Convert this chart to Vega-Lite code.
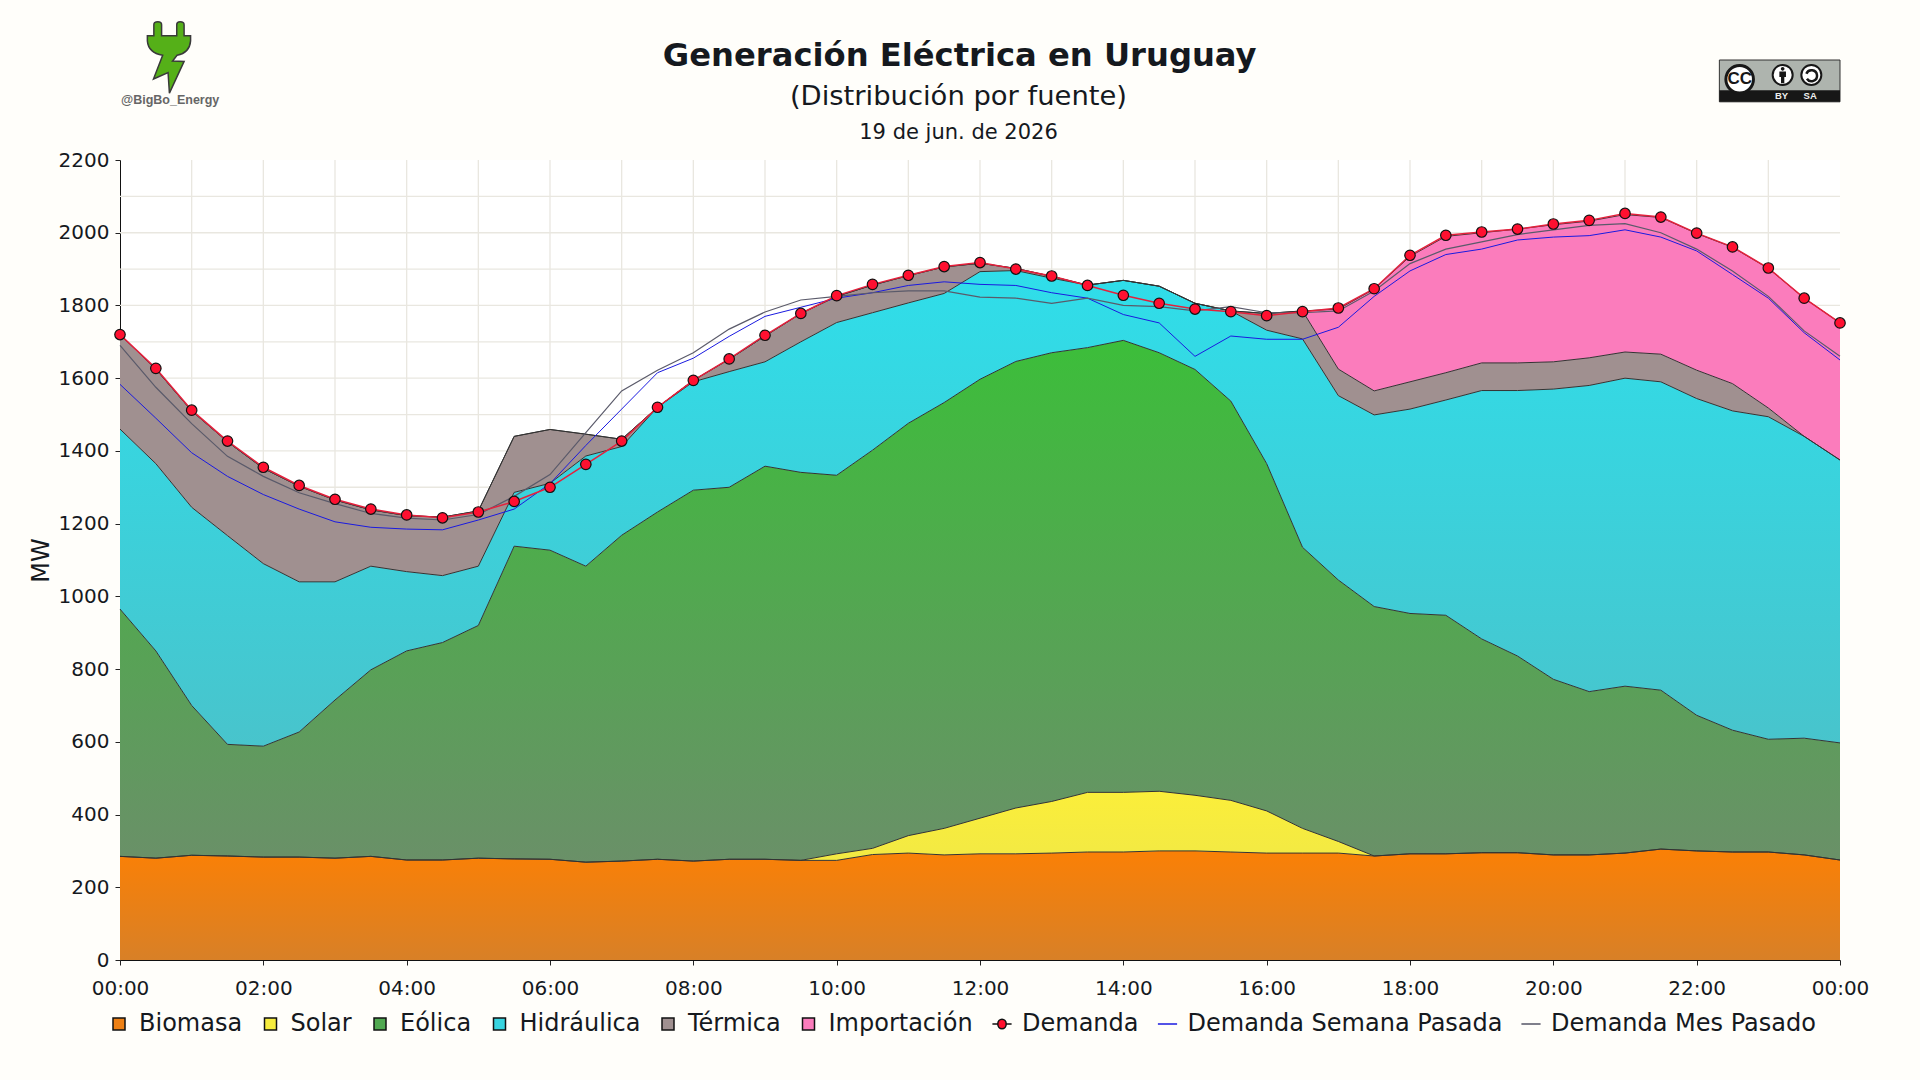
{"$schema":"https://vega.github.io/schema/vega-lite/v6.json","width":1720,"height":800,"autosize":{"type":"none"},"padding":{"left":120,"top":160,"right":80,"bottom":120},"background":"#fffefa","view":{"fill":"#ffffff","stroke":null},"config":{"font":"DejaVu Sans","view":{"fill":"#ffffff","stroke":null}},"datasets":{"d":[
{"t":"2026-06-19T00:00","bio":285,"sol":0,"eol":680,"hid":495,"ter":260,"imp":0,"dem":1720,"sem":1583,"mes":1690},
{"t":"2026-06-19T00:30","bio":280,"sol":0,"eol":570,"hid":515,"ter":260,"imp":0,"dem":1627,"sem":1490,"mes":1575},
{"t":"2026-06-19T01:00","bio":288,"sol":0,"eol":412,"hid":545,"ter":265,"imp":0,"dem":1512,"sem":1395,"mes":1475},
{"t":"2026-06-19T01:30","bio":286,"sol":0,"eol":307,"hid":574,"ter":258,"imp":0,"dem":1427,"sem":1330,"mes":1385},
{"t":"2026-06-19T02:00","bio":283,"sol":0,"eol":305,"hid":502,"ter":262,"imp":0,"dem":1355,"sem":1280,"mes":1330},
{"t":"2026-06-19T02:30","bio":283,"sol":0,"eol":344,"hid":413,"ter":263,"imp":0,"dem":1305,"sem":1240,"mes":1285},
{"t":"2026-06-19T03:00","bio":280,"sol":0,"eol":435,"hid":325,"ter":225,"imp":0,"dem":1267,"sem":1205,"mes":1255},
{"t":"2026-06-19T03:30","bio":285,"sol":0,"eol":513,"hid":285,"ter":155,"imp":0,"dem":1240,"sem":1190,"mes":1228},
{"t":"2026-06-19T04:00","bio":275,"sol":0,"eol":575,"hid":218,"ter":154,"imp":0,"dem":1224,"sem":1185,"mes":1215},
{"t":"2026-06-19T04:30","bio":275,"sol":0,"eol":598,"hid":184,"ter":161,"imp":0,"dem":1216,"sem":1183,"mes":1210},
{"t":"2026-06-19T05:00","bio":280,"sol":0,"eol":640,"hid":163,"ter":152,"imp":0,"dem":1232,"sem":1210,"mes":1225},
{"t":"2026-06-19T05:30","bio":278,"sol":0,"eol":860,"hid":148,"ter":154,"imp":0,"dem":1261,"sem":1240,"mes":1275},
{"t":"2026-06-19T06:00","bio":277,"sol":0,"eol":850,"hid":184,"ter":148,"imp":0,"dem":1300,"sem":1310,"mes":1335},
{"t":"2026-06-19T06:30","bio":269,"sol":0,"eol":814,"hid":303,"ter":60,"imp":0,"dem":1363,"sem":1415,"mes":1450},
{"t":"2026-06-19T07:00","bio":272,"sol":0,"eol":896,"hid":244,"ter":20,"imp":0,"dem":1427,"sem":1515,"mes":1565},
{"t":"2026-06-19T07:30","bio":277,"sol":0,"eol":955,"hid":288,"ter":0,"imp":0,"dem":1520,"sem":1615,"mes":1622},
{"t":"2026-06-19T08:00","bio":272,"sol":0,"eol":1020,"hid":298,"ter":4,"imp":0,"dem":1594,"sem":1655,"mes":1670},
{"t":"2026-06-19T08:30","bio":277,"sol":0,"eol":1023,"hid":318,"ter":34,"imp":0,"dem":1653,"sem":1715,"mes":1735},
{"t":"2026-06-19T09:00","bio":277,"sol":0,"eol":1081,"hid":287,"ter":71,"imp":0,"dem":1718,"sem":1770,"mes":1782},
{"t":"2026-06-19T09:30","bio":274,"sol":0,"eol":1067,"hid":359,"ter":78,"imp":0,"dem":1778,"sem":1795,"mes":1815},
{"t":"2026-06-19T10:00","bio":274,"sol":18,"eol":1041,"hid":420,"ter":72,"imp":0,"dem":1827,"sem":1820,"mes":1825},
{"t":"2026-06-19T10:30","bio":290,"sol":17,"eol":1095,"hid":378,"ter":76,"imp":0,"dem":1858,"sem":1835,"mes":1835},
{"t":"2026-06-19T11:00","bio":294,"sol":48,"eol":1134,"hid":331,"ter":75,"imp":0,"dem":1883,"sem":1855,"mes":1840},
{"t":"2026-06-19T11:30","bio":289,"sol":73,"eol":1171,"hid":300,"ter":73,"imp":0,"dem":1907,"sem":1865,"mes":1840},
{"t":"2026-06-19T12:00","bio":292,"sol":98,"eol":1207,"hid":296,"ter":23,"imp":0,"dem":1918,"sem":1858,"mes":1823},
{"t":"2026-06-19T12:30","bio":292,"sol":126,"eol":1228,"hid":250,"ter":6,"imp":0,"dem":1900,"sem":1855,"mes":1820},
{"t":"2026-06-19T13:00","bio":294,"sol":142,"eol":1234,"hid":205,"ter":5,"imp":0,"dem":1881,"sem":1835,"mes":1806},
{"t":"2026-06-19T13:30","bio":297,"sol":164,"eol":1223,"hid":172,"ter":0,"imp":0,"dem":1855,"sem":1820,"mes":1820},
{"t":"2026-06-19T14:00","bio":297,"sol":164,"eol":1243,"hid":165,"ter":0,"imp":0,"dem":1828,"sem":1775,"mes":1800},
{"t":"2026-06-19T14:30","bio":300,"sol":164,"eol":1206,"hid":183,"ter":0,"imp":0,"dem":1806,"sem":1752,"mes":1797},
{"t":"2026-06-19T15:00","bio":300,"sol":153,"eol":1171,"hid":182,"ter":0,"imp":0,"dem":1790,"sem":1660,"mes":1785},
{"t":"2026-06-19T15:30","bio":297,"sol":142,"eol":1098,"hid":248,"ter":0,"imp":0,"dem":1783,"sem":1716,"mes":1797},
{"t":"2026-06-19T16:00","bio":294,"sol":116,"eol":955,"hid":367,"ter":46,"imp":0,"dem":1772,"sem":1707,"mes":1780},
{"t":"2026-06-19T16:30","bio":294,"sol":68,"eol":773,"hid":573,"ter":77,"imp":0,"dem":1783,"sem":1707,"mes":1780},
{"t":"2026-06-19T17:00","bio":294,"sol":32,"eol":719,"hid":507,"ter":73,"imp":165,"dem":1793,"sem":1740,"mes":1785},
{"t":"2026-06-19T17:30","bio":286,"sol":0,"eol":686,"hid":527,"ter":66,"imp":280,"dem":1846,"sem":1825,"mes":1840},
{"t":"2026-06-19T18:00","bio":292,"sol":0,"eol":661,"hid":562,"ter":75,"imp":345,"dem":1938,"sem":1895,"mes":1915},
{"t":"2026-06-19T18:30","bio":292,"sol":0,"eol":656,"hid":592,"ter":75,"imp":375,"dem":1993,"sem":1940,"mes":1955},
{"t":"2026-06-19T19:00","bio":295,"sol":0,"eol":588,"hid":683,"ter":76,"imp":358,"dem":2002,"sem":1955,"mes":1975},
{"t":"2026-06-19T19:30","bio":295,"sol":0,"eol":541,"hid":730,"ter":76,"imp":368,"dem":2010,"sem":1980,"mes":1995},
{"t":"2026-06-19T20:00","bio":289,"sol":0,"eol":483,"hid":798,"ter":75,"imp":377,"dem":2024,"sem":1988,"mes":2008},
{"t":"2026-06-19T20:30","bio":289,"sol":0,"eol":449,"hid":842,"ter":76,"imp":376,"dem":2034,"sem":1992,"mes":2020},
{"t":"2026-06-19T21:00","bio":294,"sol":0,"eol":459,"hid":847,"ter":72,"imp":378,"dem":2053,"sem":2008,"mes":2025},
{"t":"2026-06-19T21:30","bio":305,"sol":0,"eol":437,"hid":848,"ter":76,"imp":376,"dem":2043,"sem":1988,"mes":2000},
{"t":"2026-06-19T22:00","bio":300,"sol":0,"eol":373,"hid":871,"ter":78,"imp":376,"dem":1999,"sem":1950,"mes":1955},
{"t":"2026-06-19T22:30","bio":297,"sol":0,"eol":335,"hid":878,"ter":75,"imp":375,"dem":1961,"sem":1885,"mes":1895},
{"t":"2026-06-19T23:00","bio":297,"sol":0,"eol":310,"hid":887,"ter":24,"imp":384,"dem":1903,"sem":1820,"mes":1825},
{"t":"2026-06-19T23:30","bio":289,"sol":0,"eol":321,"hid":830,"ter":0,"imp":380,"dem":1820,"sem":1725,"mes":1730},
{"t":"2026-06-20T00:00","bio":275,"sol":0,"eol":322,"hid":778,"ter":0,"imp":377,"dem":1752,"sem":1650,"mes":1660}
]},"layer":[
{"data":{"values":[{"serie":"Biomasa"},{"serie":"Solar"},{"serie":"Eólica"},{"serie":"Hidráulica"},{"serie":"Térmica"},{"serie":"Importación"},{"serie":"Demanda"},{"serie":"Demanda Semana Pasada"},{"serie":"Demanda Mes Pasado"}]},"mark":{"type":"point","filled":true,"size":1,"opacity":1},"encoding":{"fill":{"field":"serie","type":"nominal","scale":{"domain":["Biomasa","Solar","Eólica","Hidráulica","Térmica","Importación","Demanda","Demanda Semana Pasada","Demanda Mes Pasado"],"range":["#ee8014","#f6ec3e","#50a850","#38d4e0","#a09090","#fb7cbc","#ff0f2d","transparent","transparent"]},"legend":{"title":null,"orient":"none","legendX":-13,"legendY":852,"direction":"horizontal","columns":9,"symbolSize":144,"symbolStrokeWidth":1.5,"labelFontSize":24,"labelColor":"#15191e","labelOffset":8,"columnPadding":15.5,"labelLimit":500,"labelFont":"DejaVu Sans"}},"stroke":{"field":"serie","type":"nominal","scale":{"domain":["Biomasa","Solar","Eólica","Hidráulica","Térmica","Importación","Demanda","Demanda Semana Pasada","Demanda Mes Pasado"],"range":["#111111","#111111","#111111","#111111","#111111","#111111","#111111","#1a1ae0","#555566"]},"legend":{"title":null,"orient":"none","legendX":-13,"legendY":852,"direction":"horizontal","columns":9,"symbolSize":144,"symbolStrokeWidth":1.5,"labelFontSize":24,"labelColor":"#15191e","labelOffset":8,"columnPadding":15.5,"labelLimit":500,"labelFont":"DejaVu Sans"}},"shape":{"field":"serie","type":"nominal","scale":{"domain":["Biomasa","Solar","Eólica","Hidráulica","Térmica","Importación","Demanda","Demanda Semana Pasada","Demanda Mes Pasado"],"range":["M-1,-1H1V1H-1Z","M-1,-1H1V1H-1Z","M-1,-1H1V1H-1Z","M-1,-1H1V1H-1Z","M-1,-1H1V1H-1Z","M-1,-1H1V1H-1Z","M-1.6,0H-0.7A0.7,0.8 0 1 1 0.7,0H1.6H0.7A0.7,0.8 0 1 1 -0.7,0Z","M-1.6,0H1.6","M-1.6,0H1.6"]},"legend":{"title":null,"orient":"none","legendX":-13,"legendY":852,"direction":"horizontal","columns":9,"symbolSize":144,"symbolStrokeWidth":1.5,"labelFontSize":24,"labelColor":"#15191e","labelOffset":8,"columnPadding":15.5,"labelLimit":500,"labelFont":"DejaVu Sans"}}}},
{"data":{"values":[{"h":"2026-06-19T01:00"},{"h":"2026-06-19T02:00"},{"h":"2026-06-19T03:00"},{"h":"2026-06-19T04:00"},{"h":"2026-06-19T05:00"},{"h":"2026-06-19T06:00"},{"h":"2026-06-19T07:00"},{"h":"2026-06-19T08:00"},{"h":"2026-06-19T09:00"},{"h":"2026-06-19T10:00"},{"h":"2026-06-19T11:00"},{"h":"2026-06-19T12:00"},{"h":"2026-06-19T13:00"},{"h":"2026-06-19T14:00"},{"h":"2026-06-19T15:00"},{"h":"2026-06-19T16:00"},{"h":"2026-06-19T17:00"},{"h":"2026-06-19T18:00"},{"h":"2026-06-19T19:00"},{"h":"2026-06-19T20:00"},{"h":"2026-06-19T21:00"},{"h":"2026-06-19T22:00"},{"h":"2026-06-19T23:00"}]},"mark":{"type":"rule","color":"#e9e7e0","strokeWidth":1.3},"encoding":{"x":{"field":"h","type":"temporal","title":null}}},
{"data":{"values":[{"v":100},{"v":200},{"v":300},{"v":400},{"v":500},{"v":600},{"v":700},{"v":800},{"v":900},{"v":1000},{"v":1100},{"v":1200},{"v":1300},{"v":1400},{"v":1500},{"v":1600},{"v":1700},{"v":1800},{"v":1900},{"v":2000},{"v":2100}]},"mark":{"type":"rule","color":"#e9e7e0","strokeWidth":1.3},"encoding":{"y":{"field":"v","type":"quantitative","title":"MW"}}},
{"data":{"name":"d"},"transform":[{"fold":["bio","sol","eol","hid","ter","imp"]},{"calculate":"indexof(['bio','sol','eol','hid','ter','imp'],datum.key)","as":"i"},{"stack":"value","groupby":["t"],"sort":[{"field":"i","order":"ascending"}],"as":["y0","y1"]}],"encoding":{"x":{"field":"t","type":"temporal","title":null,"scale":{"domain":[{"year":2026,"month":6,"date":19,"hours":0},{"year":2026,"month":6,"date":20,"hours":0}]},"axis":{"format":"%H:%M","values":[{"year":2026,"month":6,"date":19,"hours":0},{"year":2026,"month":6,"date":19,"hours":2},{"year":2026,"month":6,"date":19,"hours":4},{"year":2026,"month":6,"date":19,"hours":6},{"year":2026,"month":6,"date":19,"hours":8},{"year":2026,"month":6,"date":19,"hours":10},{"year":2026,"month":6,"date":19,"hours":12},{"year":2026,"month":6,"date":19,"hours":14},{"year":2026,"month":6,"date":19,"hours":16},{"year":2026,"month":6,"date":19,"hours":18},{"year":2026,"month":6,"date":19,"hours":20},{"year":2026,"month":6,"date":19,"hours":22},{"year":2026,"month":6,"date":20,"hours":0}],"labelOverlap":false,"labelFontSize":20,"labelColor":"#15191e","labelPadding":13,"labelFlush":false,"tickColor":"#222222","tickSize":5,"domainColor":"#111111","grid":false}},"y":{"field":"y1","type":"quantitative","title":"MW","scale":{"domain":[0,2200],"nice":false},"axis":{"values":[0,200,400,600,800,1000,1200,1400,1600,1800,2000,2200],"labelOverlap":false,"format":"d","labelFontSize":20,"labelColor":"#15191e","labelPadding":6,"tickColor":"#222222","tickSize":5,"domainColor":"#111111","grid":false,"titleFontSize":24,"titleFontWeight":"normal","titleColor":"#15191e","titlePadding":5}}},"layer":[
{"transform":[{"filter":"datum.key=='bio'"}],"mark":{"type":"area","fill":{"gradient":"linear","x1":0,"y1":0,"x2":0,"y2":1,"stops":[{"offset":0,"color":"#fb8005"},{"offset":1,"color":"#d88027"}]}},"encoding":{"y2":{"field":"y0"}}},
{"transform":[{"filter":"datum.key=='sol'"}],"mark":{"type":"area","fill":{"gradient":"linear","x1":0,"y1":0,"x2":0,"y2":1,"stops":[{"offset":0,"color":"#fbee3a"},{"offset":1,"color":"#f2e944"}]}},"encoding":{"y2":{"field":"y0"}}},
{"transform":[{"filter":"datum.key=='eol'"}],"mark":{"type":"area","fill":{"gradient":"linear","x1":0,"y1":0,"x2":0,"y2":1,"stops":[{"offset":0,"color":"#3cbe3a"},{"offset":1,"color":"#6a9068"}]}},"encoding":{"y2":{"field":"y0"}}},
{"transform":[{"filter":"datum.key=='hid'"}],"mark":{"type":"area","fill":{"gradient":"linear","x1":0,"y1":0,"x2":0,"y2":1,"stops":[{"offset":0,"color":"#2fdeea"},{"offset":1,"color":"#48c4cc"}]}},"encoding":{"y2":{"field":"y0"}}},
{"transform":[{"filter":"datum.key=='ter'"}],"mark":{"type":"area","color":"#a09090"},"encoding":{"y2":{"field":"y0"}}},
{"transform":[{"filter":"datum.key=='imp'"}],"mark":{"type":"area","color":"#fb7cbc"},"encoding":{"y2":{"field":"y0"}}},
{"mark":{"type":"line","color":"#333333","strokeWidth":1},"encoding":{"detail":{"field":"key"}}}
]},
{"data":{"name":"d"},"encoding":{"x":{"field":"t","type":"temporal","title":null}},"layer":[
{"mark":{"type":"line","color":"#1a1ae0","strokeWidth":1},"encoding":{"y":{"field":"sem","type":"quantitative","title":"MW"}}},
{"mark":{"type":"line","color":"#5a5a6a","strokeWidth":1.2},"encoding":{"y":{"field":"mes","type":"quantitative","title":"MW"}}},
{"mark":{"type":"line","color":"#e5203c","strokeWidth":1.5},"encoding":{"y":{"field":"dem","type":"quantitative","title":"MW"}}},
{"mark":{"type":"point","filled":true,"size":110,"fill":"#ff1030","stroke":"#111111","strokeWidth":1.2,"opacity":1},"encoding":{"y":{"field":"dem","type":"quantitative","title":"MW"}}}
]},
{"data":{"values":[{"label":"Generación Eléctrica en Uruguay"}]},"mark":{"type":"text","fontSize":32.2,"fontWeight":"bold","color":"#15191e","align":"center","baseline":"middle"},"encoding":{"x":{"datum":{"year":2026,"month":6,"date":19,"hours":11,"minutes":43},"type":"temporal","title":null},"y":{"datum":2485,"type":"quantitative","title":"MW"},"text":{"field":"label"}}},
{"data":{"values":[{"label":"(Distribución por fuente)"}]},"mark":{"type":"text","fontSize":27.4,"color":"#15191e","align":"center","baseline":"middle"},"encoding":{"x":{"datum":{"year":2026,"month":6,"date":19,"hours":11,"minutes":42},"type":"temporal","title":null},"y":{"datum":2373,"type":"quantitative","title":"MW"},"text":{"field":"label"}}},
{"data":{"values":[{"label":"19 de jun. de 2026"}]},"mark":{"type":"text","fontSize":21,"color":"#15191e","align":"center","baseline":"middle"},"encoding":{"x":{"datum":{"year":2026,"month":6,"date":19,"hours":11,"minutes":42},"type":"temporal","title":null},"y":{"datum":2274,"type":"quantitative","title":"MW"},"text":{"field":"label"}}},
{"data":{"values":[{"label":"@BigBo_Energy"}]},"mark":{"type":"text","fontSize":12.5,"fontWeight":"bold","font":"Liberation Sans","color":"#666666","align":"center","baseline":"middle"},"encoding":{"x":{"datum":{"year":2026,"month":6,"date":19,"hours":0,"minutes":42},"type":"temporal","title":null},"y":{"datum":2365,"type":"quantitative","title":"MW"},"text":{"field":"label"}}},
{"data":{"values":[{"label":"logo"}]},"mark":{"type":"point","filled":true,"size":5184,"fill":"#55b018","stroke":"#3a3a3a","strokeWidth":1.5,"opacity":1,"shape":"M-0.42,-0.9Q-0.42,-0.98 -0.31,-0.98Q-0.205,-0.98 -0.205,-0.9V-0.59H0.216V-0.9Q0.216,-0.98 0.31,-0.98Q0.42,-0.98 0.42,-0.9V-0.59H0.6V-0.45Q0.575,-0.12 0.225,-0.05L0.1,0.11L0.42,0.12L0.0125,1L-0.025,0.43L-0.43,0.61L-0.175,-0.05Q-0.575,-0.12 -0.6,-0.45V-0.59H-0.42Z"},"encoding":{"x":{"datum":{"year":2026,"month":6,"date":19,"hours":0,"minutes":41},"type":"temporal","title":null},"y":{"datum":2483,"type":"quantitative","title":"MW"}}},
{"data":{"values":[{"label":"cc"}]},"mark":{"type":"rect","color":"#aeb4ae","stroke":"#333333","strokeWidth":1},"encoding":{"x":{"datum":{"year":2026,"month":6,"date":19,"hours":22,"minutes":19},"type":"temporal","title":null},"x2":{"datum":{"year":2026,"month":6,"date":20,"hours":0}},"y":{"datum":2475,"type":"quantitative","title":"MW"},"y2":{"datum":2360}}},
{"data":{"values":[{"label":"cc"}]},"mark":{"type":"rect","color":"#171717"},"encoding":{"x":{"datum":{"year":2026,"month":6,"date":19,"hours":22,"minutes":19},"type":"temporal","title":null},"x2":{"datum":{"year":2026,"month":6,"date":20,"hours":0}},"y":{"datum":2392,"type":"quantitative","title":"MW"},"y2":{"datum":2360}}},
{"data":{"values":[{"label":"cc"}]},"mark":{"type":"point","shape":"circle","filled":true,"size":760,"fill":"#ffffff","stroke":"#171717","strokeWidth":3,"opacity":1},"encoding":{"x":{"datum":{"year":2026,"month":6,"date":19,"hours":22,"minutes":36},"type":"temporal","title":null},"y":{"datum":2422,"type":"quantitative","title":"MW"}}},
{"data":{"values":[{"label":"CC"}]},"mark":{"type":"text","font":"Liberation Sans","fontWeight":"bold","fontSize":17,"color":"#171717","align":"center","baseline":"middle"},"encoding":{"x":{"datum":{"year":2026,"month":6,"date":19,"hours":22,"minutes":36},"type":"temporal","title":null},"y":{"datum":2422,"type":"quantitative","title":"MW"},"text":{"field":"label"}}},
{"data":{"values":[{"label":"by"}]},"mark":{"type":"point","shape":"circle","filled":true,"size":400,"fill":"#ffffff","stroke":"#171717","strokeWidth":2,"opacity":1},"encoding":{"x":{"datum":{"year":2026,"month":6,"date":19,"hours":23,"minutes":12},"type":"temporal","title":null},"y":{"datum":2434,"type":"quantitative","title":"MW"}}},
{"data":{"values":[{"label":"sa"}]},"mark":{"type":"point","shape":"circle","filled":true,"size":400,"fill":"#ffffff","stroke":"#171717","strokeWidth":2,"opacity":1},"encoding":{"x":{"datum":{"year":2026,"month":6,"date":19,"hours":23,"minutes":36},"type":"temporal","title":null},"y":{"datum":2434,"type":"quantitative","title":"MW"}}},
{"data":{"values":[{"label":"by"}]},"mark":{"type":"point","filled":true,"size":484,"fill":"#171717","opacity":1,"shape":"M-0.3,-0.3H0.3V0.2H0.15V0.75H-0.15V0.2H-0.3ZM0,-0.72A0.17,0.17 0 1 1 0,-0.38A0.17,0.17 0 1 1 0,-0.72Z"},"encoding":{"x":{"datum":{"year":2026,"month":6,"date":19,"hours":23,"minutes":12},"type":"temporal","title":null},"y":{"datum":2434,"type":"quantitative","title":"MW"}}},
{"data":{"values":[{"label":"sa"}]},"mark":{"type":"point","filled":false,"size":484,"stroke":"#171717","strokeWidth":2.5,"opacity":1,"shape":"M-0.45,-0.1A0.5,0.5 0 1 1 -0.4,0.35"},"encoding":{"x":{"datum":{"year":2026,"month":6,"date":19,"hours":23,"minutes":36},"type":"temporal","title":null},"y":{"datum":2434,"type":"quantitative","title":"MW"}}},
{"data":{"values":[{"label":"BY"}]},"mark":{"type":"text","font":"Liberation Sans","fontWeight":"bold","fontSize":9.5,"color":"#eeeeee","align":"center","baseline":"middle"},"encoding":{"x":{"datum":{"year":2026,"month":6,"date":19,"hours":23,"minutes":11},"type":"temporal","title":null},"y":{"datum":2376,"type":"quantitative","title":"MW"},"text":{"field":"label"}}},
{"data":{"values":[{"label":"SA"}]},"mark":{"type":"text","font":"Liberation Sans","fontWeight":"bold","fontSize":9.5,"color":"#eeeeee","align":"center","baseline":"middle"},"encoding":{"x":{"datum":{"year":2026,"month":6,"date":19,"hours":23,"minutes":35},"type":"temporal","title":null},"y":{"datum":2376,"type":"quantitative","title":"MW"},"text":{"field":"label"}}}
]}
